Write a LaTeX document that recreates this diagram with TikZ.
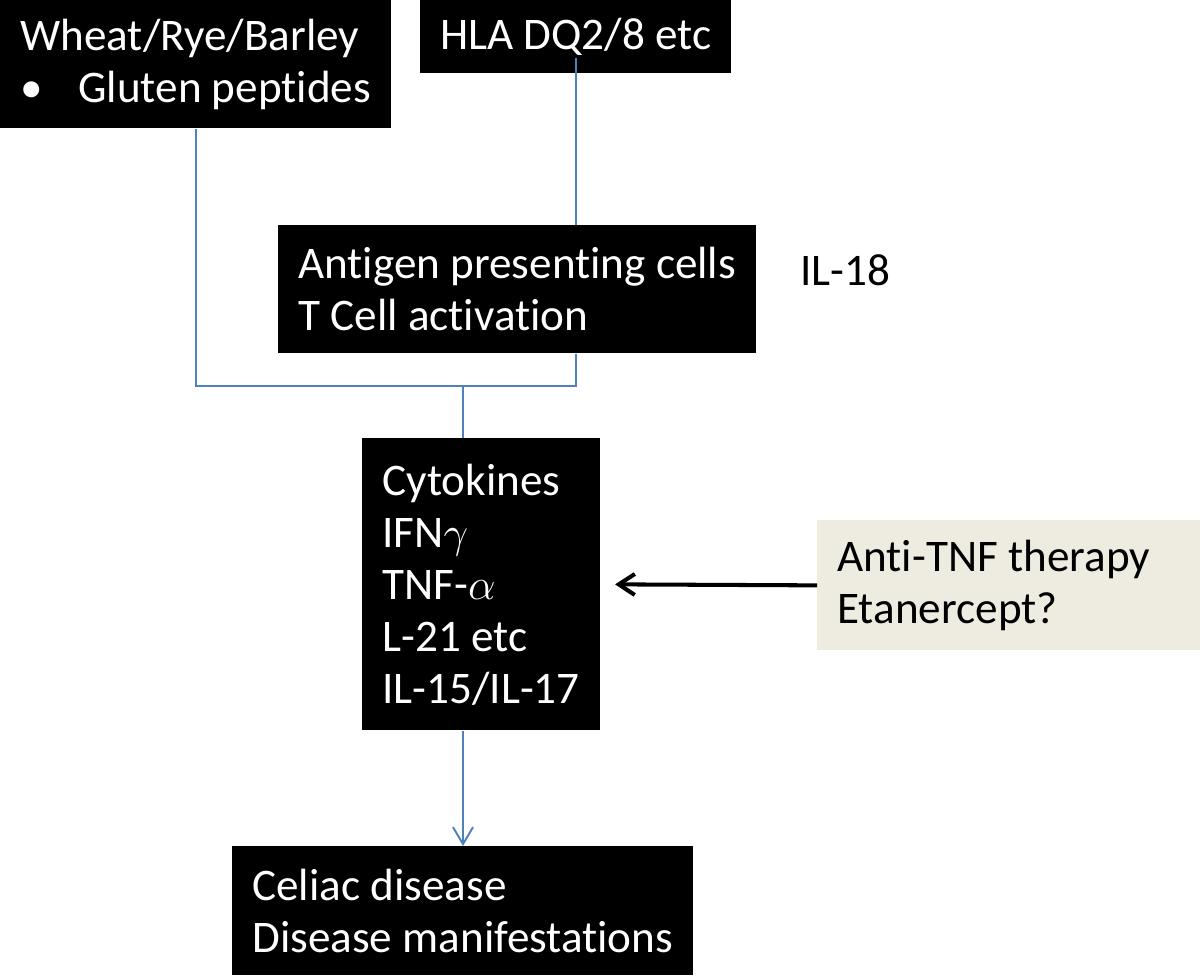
\documentclass[tikz,border=0pt]{standalone}
\usepackage{fontspec}
\setmainfont{Carlito}[Ligatures=NoCommon]
\usetikzlibrary{positioning,arrows.meta}
\definecolor{linkblue}{HTML}{4F81BD}
\definecolor{tanbox}{HTML}{EEECE1}

\begin{document}
\begin{tikzpicture}[
    darkbox/.style={fill=black, text=white, anchor=north west, align=flush left,
      inner xsep=0.4cm, font=\fontsize{25.7}{29.6}\selectfont},
    link/.style={draw=linkblue, line width=1.1pt},
  ]
  \useasboundingbox (0,0) rectangle (24,-19.5);
  \node[darkbox, minimum height=2.56cm] (wheat) at (0,0)
    {Wheat/Rye/Barley\\\makebox[1.16cm][l]{\textbullet}Gluten peptides};
  \node[darkbox, minimum height=1.46cm] (hla) at (8.4,0)
    {HLA DQ2/8 etc};
  \node[darkbox, minimum height=2.56cm] (apc) at (5.56,-4.5)
    {Antigen presenting cells\\T Cell activation};
  \node[anchor=west, inner sep=0pt, font=\fontsize{25.7}{29.6}\selectfont] (il) at (16.0,-5.4)
    {IL-18};
  \node[darkbox, minimum height=5.84cm] (cyto) at (7.24,-8.76)
    {Cytokines\\IFN$\gamma$\\TNF-$\alpha$\\L-21 etc\\IL-15/IL-17};
  \node[darkbox, fill=tanbox, text=black, text width=6.86cm, minimum height=2.6cm] (antitnf) at (16.34,-10.4)
    {Anti-TNF therapy\\Etanercept?};
  \node[darkbox, minimum height=2.58cm] (celiac) at (4.64,-16.92)
    {Celiac disease\\Disease manifestations};
  \coordinate (join) at (9.26,-7.72);
  \draw[link] (wheat.south) |- (join);
  \draw[link] ([yshift=0.32cm]hla.south) -- (hla.south |- apc.north);
  \draw[link] (hla.south |- apc.south) |- (join);
  \draw[link] (join) -- (join |- cyto.north);
  \draw[link, -{Straight Barb[length=0.34cm, width=0.4cm]}] (join |- cyto.south) -- (join |- celiac.north);
  \draw[line width=2.3pt, -{Straight Barb[length=0.32cm, width=0.42cm]}] (antitnf.west) -- ([xshift=0.3cm]cyto.east);
\end{tikzpicture}
\end{document}
